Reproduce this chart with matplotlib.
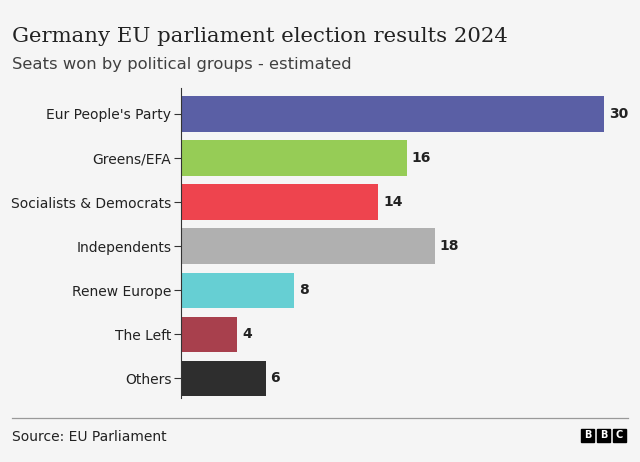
import matplotlib.pyplot as plt
from matplotlib.patches import Rectangle
from matplotlib.lines import Line2D

parties = ["Eur People's Party", "Greens/EFA", "Socialists & Democrats",
           "Independents", "Renew Europe", "The Left", "Others"]
seats = [30, 16, 14, 18, 8, 4, 6]
colours = ["#5a5fa5", "#96cc56", "#ee444e", "#b0b0b0", "#66cfd3", "#a8404d", "#2e2e2e"]

bg = "#f5f5f5"
fig = plt.figure(figsize=(6.4, 4.62), dpi=100, facecolor=bg)
ax = fig.add_axes([181/640, 1-398/462, (604-181)/640, (398-88)/462])
ax.set_facecolor(bg)

y = list(range(len(parties)))
ax.barh(y, seats, height=0.8, color=colours)
for yi, v in zip(y, seats):
    ax.text(v + 0.35, yi, str(v), va='center', ha='left', fontsize=10,
            fontweight='bold', color='#222222', clip_on=False)

ax.set_xlim(0, 30)
ax.set_ylim(6.45, -0.59)
ax.set_yticks(y)
ax.set_yticklabels(parties, fontsize=10, color='#222222')
ax.tick_params(axis='y', length=5, width=0.8, color='#333333', pad=2)
ax.set_xticks([])
for s in ['top', 'right', 'bottom']:
    ax.spines[s].set_visible(False)
ax.spines['left'].set_color('#333333')
ax.spines['left'].set_linewidth(0.8)

fig.text(12/640, 1-42/462, "Germany EU parliament election results 2024",
         fontsize=15.3, family='DejaVu Serif', color='#222222', va='baseline')
fig.text(12/640, 1-69/462, "Seats won by political groups - estimated",
         fontsize=11.8, color='#404040', va='baseline')

fig.add_artist(Line2D([12/640, 628/640], [1-418/462, 1-418/462],
                      transform=fig.transFigure, color='#999999', lw=0.9))
fig.text(12/640, 1-441/462, "Source: EU Parliament", fontsize=10,
         color='#222222', va='baseline')

# BBC blocks
for i, ch in enumerate("BBC"):
    x0 = 581 + i * 16
    fig.add_artist(Rectangle((x0/640, 1-442/462), 13/640, 13/462,
                             transform=fig.transFigure, color='black'))
    fig.text((x0+6.5)/640, 1-435.5/462, ch, fontsize=7, fontweight='bold',
             color='white', ha='center', va='center')

fig.savefig("out.png", dpi=100, facecolor=bg)
